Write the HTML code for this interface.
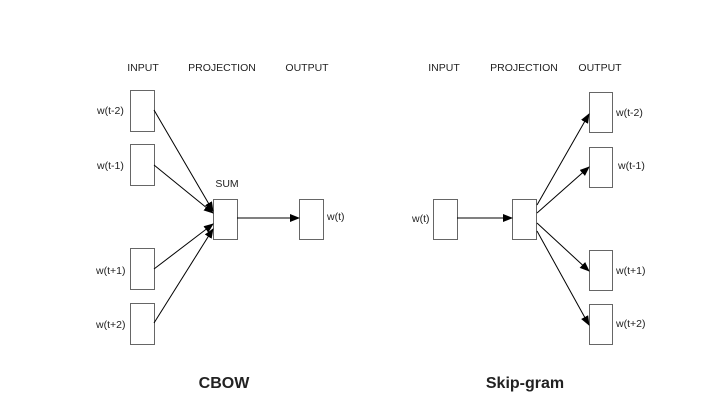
<!DOCTYPE html>
<html><head><style>body{margin:0;background:#fff}svg{display:block}text{font-family:"Liberation Sans",Arial,sans-serif;fill:#222}</style></head><body>
<svg width="713" height="410" viewBox="0 0 713 410" xmlns="http://www.w3.org/2000/svg">
<defs><marker id="a" markerWidth="10" markerHeight="8" refX="9" refY="4" orient="auto" markerUnits="userSpaceOnUse"><path d="M0,0 L10,4 L0,8 z" fill="#000"/></marker></defs>
<g font-size="10.5" text-anchor="middle">
<text x="143" y="71">INPUT</text><text x="222" y="71">PROJECTION</text><text x="307" y="71">OUTPUT</text>
<text x="444" y="71">INPUT</text><text x="524" y="71">PROJECTION</text><text x="600" y="71">OUTPUT</text>
<text x="227" y="187">SUM</text>
</g>
<g fill="#fff" stroke="#666" stroke-width="1">
<rect x="130.5" y="90.5" width="24" height="41"/><rect x="130.5" y="144.5" width="24" height="41"/>
<rect x="130.5" y="248.5" width="24" height="41"/><rect x="130.5" y="303.5" width="24" height="41"/>
<rect x="213.5" y="199.5" width="24" height="40"/><rect x="299.5" y="199.5" width="24" height="40"/>
<rect x="433.5" y="199.5" width="24" height="40"/><rect x="512.5" y="199.5" width="24" height="40"/>
<rect x="589.5" y="92.5" width="23" height="40"/><rect x="589.5" y="147.5" width="23" height="40"/>
<rect x="589.5" y="250.5" width="23" height="40"/><rect x="589.5" y="304.5" width="23" height="40"/>
</g>
<g stroke="#000" stroke-width="1" marker-end="url(#a)">
<line x1="154" y1="110" x2="213" y2="211"/><line x1="154" y1="165" x2="213" y2="213"/>
<line x1="154" y1="269" x2="213" y2="224"/><line x1="154" y1="323" x2="213" y2="229"/>
<line x1="237" y1="218" x2="299" y2="218"/>
<line x1="457" y1="218" x2="512" y2="218"/>
<line x1="537" y1="205" x2="589" y2="114"/><line x1="537" y1="213" x2="589" y2="167"/>
<line x1="537" y1="223" x2="589" y2="271"/><line x1="537" y1="231" x2="589" y2="325"/>
</g>
<g font-size="10.5">
<text x="97" y="114">w(t-2)</text><text x="97" y="169">w(t-1)</text>
<text x="96" y="274">w(t+1)</text><text x="96" y="328">w(t+2)</text>
<text x="327" y="220">w(t)</text><text x="412" y="222">w(t)</text>
<text x="616" y="116">w(t-2)</text><text x="618" y="169">w(t-1)</text>
<text x="616" y="274">w(t+1)</text><text x="616" y="327">w(t+2)</text>
</g>
<g font-size="16" font-weight="bold" text-anchor="middle">
<text x="224" y="388">CBOW</text><text x="525" y="388">Skip-gram</text>
</g>
</svg>
</body></html>
